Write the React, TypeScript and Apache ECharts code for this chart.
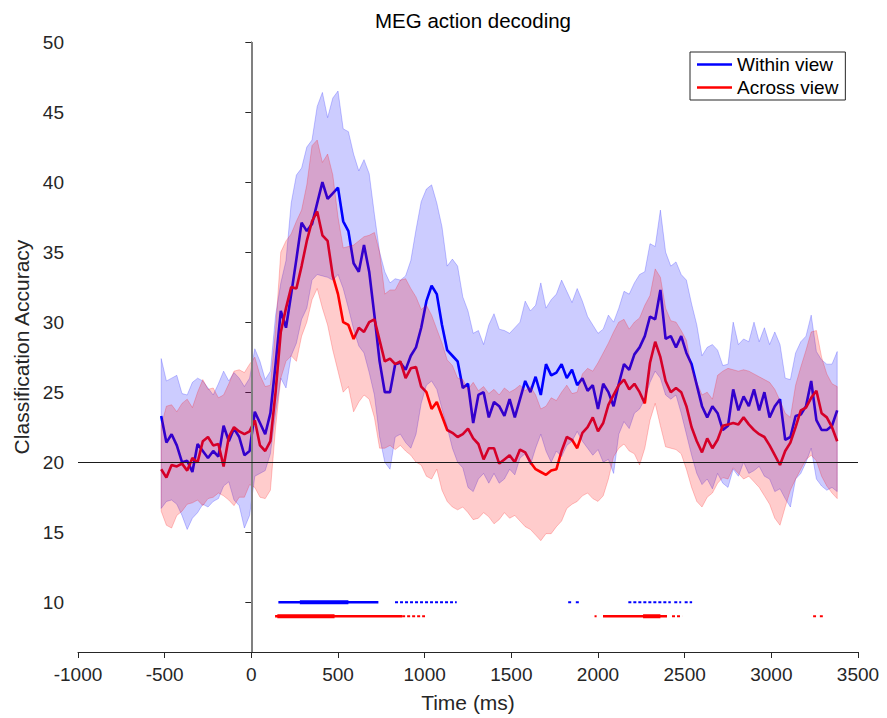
import React, { useEffect, useRef } from "react";
import * as echarts from "echarts";

// Sampling grid of the decoding time course (ms)
const SAMPLE_START_MS = -520;
const SAMPLE_STEP_MS = 30;

// Mean classification accuracy (%), within-view decoding
const withinMean = [
  23.3, 21.4, 22.0, 21.2, 20.0, 20.1, 19.3, 21.3, 20.8, 20.3,
  20.8, 20.4, 22.6, 21.5, 22.4, 21.8, 20.5, 20.8, 23.6, 22.8,
  22.0, 23.5, 27.0, 30.8, 29.6, 32.0, 34.5, 37.1, 36.5, 37.0,
  38.5, 40.0, 38.8, 39.2, 39.6, 37.2, 36.5, 34.2, 33.6, 35.5,
  33.6, 30.5, 27.2, 25.0, 25.0, 27.0, 27.1, 26.6, 27.6, 28.2,
  29.6, 31.5, 32.6, 32.0, 29.8, 28.0, 27.6, 27.2, 25.3, 25.6,
  22.8, 24.8, 25.0, 23.2, 24.3, 24.0, 23.3, 24.5, 23.2, 24.5,
  25.8, 25.0, 26.1, 24.8, 27.0, 26.2, 26.4, 27.0, 26.0, 26.6,
  25.5, 26.0, 25.1, 25.5, 23.8, 25.6, 25.0, 24.0, 25.6, 27.0,
  26.6, 27.7, 28.2, 29.0, 30.4, 30.2, 32.3, 28.8, 29.0, 28.2,
  29.0, 27.8, 27.0, 25.5, 24.0, 23.2, 24.0, 23.5, 22.3, 22.6,
  25.2, 23.7, 24.7, 24.0, 25.2, 23.7, 25.0, 23.2, 24.0, 24.5,
  21.6, 21.8, 23.3, 23.4, 24.0, 25.8, 23.0, 22.3, 22.3, 22.6,
  23.7,
];

// Mean classification accuracy (%), across-view decoding
const acrossMean = [
  19.5, 18.9, 19.8, 19.7, 19.9, 19.4, 20.3, 20.0, 21.5, 21.8,
  21.2, 21.3, 19.7, 21.8, 22.5, 22.2, 22.0, 22.2, 23.0, 21.2,
  20.8, 21.5, 25.0, 29.3, 31.0, 32.5, 32.4, 34.0, 35.8, 37.2,
  37.9, 36.2, 35.8, 33.3, 32.0, 30.0, 29.8, 28.8, 29.6, 29.3,
  30.0, 30.2, 28.7, 27.2, 27.4, 27.0, 27.2, 26.0, 26.7, 26.8,
  25.4, 25.0, 23.8, 24.3, 23.3, 22.3, 22.1, 21.8, 22.0, 22.4,
  21.7, 21.3, 20.2, 21.0, 21.0, 19.9, 20.2, 20.5, 20.0, 20.9,
  20.7, 20.0, 19.5, 19.3, 19.1, 19.4, 19.5, 20.8, 21.8, 21.6,
  21.0, 22.1, 22.5, 23.2, 22.2, 22.8, 24.1, 24.8, 25.5, 25.9,
  25.2, 25.6, 25.0, 24.2, 27.1, 28.6, 27.5, 25.8, 25.0, 25.3,
  25.0, 24.0, 22.5, 21.5, 20.7, 21.7, 21.0, 21.6, 22.6, 22.7,
  22.8, 22.7, 23.2, 22.7, 22.3, 22.0, 21.8, 21.2, 20.5, 19.8,
  20.8, 21.4, 22.5, 23.7, 23.9, 24.6, 25.1, 23.5, 23.2, 22.5,
  21.5,
];

// Upper / lower edges of the within-view error band
const withinUpper = [
  27.4, 25.8, 26.0, 26.2, 24.9, 24.8, 25.7, 26.0, 25.8, 25.3,
  24.8, 25.6, 26.5, 25.8, 26.4, 26.0, 25.4, 26.0, 28.1, 27.2,
  25.9, 26.5, 30.5, 32.8, 34.4, 38.5, 40.5, 41.0, 42.5, 43.0,
  45.4, 46.4, 44.6, 46.0, 46.5, 43.8, 43.6, 42.0, 40.8, 41.6,
  40.6, 37.7, 35.0, 33.6, 32.8, 33.1, 33.0, 33.3, 34.4, 36.6,
  38.6, 39.5, 39.8, 38.5, 36.8, 34.0, 34.5, 34.0, 31.8, 30.8,
  29.2, 29.4, 28.4, 29.8, 30.6, 29.5, 29.4, 29.2, 29.6, 30.0,
  31.5, 30.8, 31.2, 32.8, 31.0, 31.6, 32.0, 33.0, 32.2, 31.4,
  32.4, 31.5, 30.4, 29.8, 29.2, 29.5, 30.5, 30.0, 31.0, 32.2,
  32.0, 32.8, 33.4, 33.6, 35.6, 35.4, 38.0, 35.0, 34.0, 34.3,
  33.4, 33.0, 31.3, 29.8, 27.6, 28.2, 28.4, 28.0, 26.9, 27.0,
  30.0, 28.4, 28.8, 28.6, 30.0, 28.6, 29.6, 28.4, 29.3, 28.4,
  26.0, 25.9, 27.8, 28.6, 29.0, 30.5, 27.9, 27.3, 27.0, 27.0,
  27.9,
];
const withinLower = [
  16.7, 17.2, 17.3, 17.0, 16.2, 15.2, 16.0, 16.4, 17.0, 16.8,
  17.2, 17.4, 18.3, 18.6, 17.3, 16.9, 15.3, 16.2, 19.0, 19.2,
  19.4, 20.6, 23.5, 26.0, 25.3, 27.6, 28.5, 30.2, 31.0, 33.0,
  33.4, 33.3, 33.2, 33.0, 33.4, 32.4, 31.0, 29.5, 28.3, 27.8,
  26.4, 24.8, 21.8, 20.0, 19.5, 21.8, 22.0, 21.4, 21.0, 22.0,
  24.2, 25.5, 25.8, 25.2, 23.8, 22.5, 21.0, 20.0, 19.6, 18.2,
  17.9, 18.8, 19.2, 18.5, 19.2, 18.5, 18.8, 19.5, 19.1, 20.3,
  20.6, 19.8, 21.0, 22.0, 20.8, 20.0, 20.8, 20.4, 21.2, 21.5,
  22.2, 21.5, 21.0, 20.5, 20.9, 20.0, 20.2, 19.2, 22.0, 22.9,
  22.4, 23.5, 23.8, 24.5, 25.7, 26.5, 26.0, 24.8, 24.5, 24.8,
  23.5, 22.0, 20.5, 19.2, 18.4, 18.8, 18.1, 19.2, 18.5, 18.2,
  19.5, 19.0, 20.0, 19.2, 19.4, 19.7, 19.0, 18.8, 17.9, 18.1,
  17.4, 16.8, 18.8, 19.2, 20.0, 21.0, 18.8, 18.3, 18.0, 18.2,
  17.9,
];

// Upper / lower edges of the across-view error band
const acrossUpper = [
  22.6, 24.0, 24.1, 23.6, 24.2, 24.5, 23.9, 25.0, 25.9, 25.2,
  25.3, 24.6, 24.8, 25.6, 26.5, 26.6, 26.4, 27.0, 27.5, 26.2,
  25.4, 25.5, 29.5, 35.0, 35.8, 36.3, 37.2, 38.0, 39.8, 42.6,
  43.0, 41.4, 42.0, 40.5, 37.5, 35.3, 35.4, 35.5, 35.8, 36.1,
  36.2, 36.4, 35.0, 32.0, 32.3, 32.3, 33.0, 33.1, 32.4, 31.8,
  30.9, 31.2, 30.5, 29.5, 28.5, 27.3, 26.9, 26.0, 25.9, 25.2,
  25.7, 25.1, 25.4, 24.9, 25.2, 24.8, 25.3, 25.0, 25.2, 25.5,
  25.1, 25.4, 24.8, 23.8, 24.0, 24.6, 24.4, 25.0, 25.5, 24.9,
  25.0, 26.3, 26.7, 26.5, 27.1, 27.8, 28.5, 29.3, 30.0, 30.2,
  29.5, 30.0, 30.3, 31.2, 31.9, 33.8, 33.2, 31.0, 30.1, 30.0,
  29.4, 28.7, 26.7, 25.7, 24.8, 25.0, 24.5, 26.2, 26.5, 26.7,
  26.6, 26.5, 26.6, 26.5, 26.3, 26.1, 25.9, 25.7, 25.2, 24.4,
  23.5, 23.2, 25.5, 26.8, 28.0, 29.3, 29.4, 27.5, 26.3, 25.6,
  25.4,
];
const acrossLower = [
  16.5, 15.5, 15.3, 16.2, 16.5, 17.0, 17.1, 17.3, 16.9, 17.4,
  17.5, 17.8, 17.6, 17.3, 16.9, 17.5, 17.5, 18.4, 18.2, 17.5,
  17.4, 18.0, 22.5, 26.0, 27.2, 27.6, 27.2, 29.0, 30.0, 31.6,
  32.4, 31.0, 29.8, 28.0, 26.5, 25.0, 25.4, 23.6, 24.3, 24.8,
  24.5, 23.2, 21.0, 21.0, 21.2, 20.9, 21.2, 20.8, 20.5, 20.0,
  19.8, 19.0, 18.8, 19.5, 18.0, 17.2, 16.8, 16.6, 16.8, 16.4,
  15.9, 16.0, 16.4, 16.1, 15.6, 15.9, 16.4, 16.0, 16.2, 15.8,
  15.4, 15.2, 14.8, 14.4, 14.9, 14.9, 15.4, 15.8, 16.7, 17.0,
  17.2, 17.6, 17.8, 17.4, 17.2, 17.6, 18.8, 20.4, 21.0, 21.3,
  20.8, 20.6, 19.8, 21.0, 23.0, 24.2, 22.6, 21.1, 21.0, 20.9,
  20.6, 19.5, 18.2, 17.2, 16.8, 17.5, 17.8, 18.5, 18.9, 18.8,
  19.6, 19.2, 18.8, 19.0, 18.6, 18.2, 17.6, 17.0, 16.0, 15.5,
  16.8, 18.0, 18.8, 19.5, 20.2, 20.5, 20.1, 19.0, 18.3, 17.8,
  17.4,
];

// Significant time windows (ms): dense runs and sparse runs
const withinSigDense = [[156, 733]];
const withinSigSparse = [[829, 1185], [1828, 1845], [1872, 1897], [2175, 2420], [2440, 2480], [2500, 2543]];
const withinSigCore = [[280, 560]];
const acrossSigDense = [[137, 870], [2029, 2398]];
const acrossSigSparse = [[870, 1002], [1980, 1992], [2427, 2485], [3241, 3258], [3280, 3297]];
const acrossSigCore = [[150, 480], [2260, 2360]];

// Marker rows for the significance bars
const WITHIN_SIG_LEVEL = 10;
const ACROSS_SIG_LEVEL = 9;

// Reference lines: stimulus onset and chance level
const ONSET_MS = 0;
const CHANCE_LEVEL = 20;

const yTicks = [10, 15, 20, 25, 30, 35, 40, 45, 50];

const timeMs = withinMean.map((_, i) => SAMPLE_START_MS + i * SAMPLE_STEP_MS);

const FONT = "'Liberation Sans', Arial, Helvetica, sans-serif";
const AXIS_COLOR = "#262626";
const BLUE = "#0000ff";
const RED = "#ff0000";

function pairs(values: number[]) {
  return values.map((v, i) => [timeMs[i], v]);
}

function runs(segs: number[][], level: number) {
  const out: (number | string)[][] = [];
  segs.forEach(([s, e]) => {
    out.push([s, level], [e, level], [e, "-"]);
  });
  return out;
}

// Shaded error band: one polygon through the upper edge and back along the lower edge
function bandSeries(name: string, upper: number[], lower: number[], edge: string, fill: string) {
  return {
    name,
    type: "custom",
    z: 3,
    silent: true,
    clip: true,
    data: timeMs.map((t, i) => [t, lower[i], upper[i]]),
    encode: { x: 0, y: [1, 2] },
    renderItem: (params: any, api: any) => {
      if (params.dataIndex !== 0) return null;
      const pts: number[][] = [];
      for (let i = 0; i < timeMs.length; i++) pts.push(api.coord([timeMs[i], upper[i]]));
      for (let i = timeMs.length - 1; i >= 0; i--) pts.push(api.coord([timeMs[i], lower[i]]));
      return {
        type: "polygon",
        shape: { points: pts },
        style: { fill, stroke: edge, lineWidth: 0.8 },
      };
    },
  };
}

function sigSeries(name: string, segs: number[][], level: number, color: string, width: number, dashed: boolean) {
  return {
    name,
    type: "line",
    data: runs(segs, level),
    symbol: "none",
    connectNulls: false,
    lineStyle: { color, width, type: dashed ? [3, 2] : "solid" },
    itemStyle: { color },
    z: 4,
    silent: true,
  };
}

export default function App() {
  const ref = useRef<HTMLDivElement>(null);

  useEffect(() => {
    document.body.style.margin = "0";
    if (!ref.current) return;
    const chart = echarts.init(ref.current, null, { renderer: "svg" });

    chart.setOption({
      animation: false,
      backgroundColor: "#ffffff",
      textStyle: { fontFamily: FONT },
      title: {
        text: "MEG action decoding",
        left: 468,
        top: 5,
        textAlign: "center",
        textStyle: { fontFamily: FONT, fontSize: 20.5, fontWeight: "normal", color: "#000" },
      },
      legend: {
        data: [
          { name: "Within view", icon: "rect" },
          { name: "Across view", icon: "rect" },
        ],
        orient: "vertical",
        left: 690,
        top: 52,
        padding: [1, 7, 1, 7],
        itemWidth: 35,
        itemHeight: 2.5,
        itemGap: 0,
        selectedMode: false,
        borderColor: AXIS_COLOR,
        borderWidth: 1,
        backgroundColor: "#ffffff",
        textStyle: { fontFamily: FONT, fontSize: 19, color: "#000", lineHeight: 23 },
      },
      grid: { left: 78, right: 29, top: 42, bottom: 64, containLabel: false },
      xAxis: {
        type: "value",
        min: -1000,
        max: 3500,
        interval: 500,
        name: "Time (ms)",
        nameLocation: "middle",
        nameGap: 40,
        nameTextStyle: { fontFamily: FONT, fontSize: 21, color: AXIS_COLOR },
        axisLine: { lineStyle: { color: AXIS_COLOR, width: 1 } },
        axisTick: { length: 6, lineStyle: { color: AXIS_COLOR } },
        axisLabel: {
          fontFamily: FONT,
          fontSize: 19,
          color: AXIS_COLOR,
          margin: 13,
          formatter: (v: number) => String(v),
        },
        splitLine: { show: false },
      },
      yAxis: {
        type: "value",
        min: 6.45,
        max: 50,
        name: "Classification Accuracy",
        nameLocation: "middle",
        nameGap: 46,
        nameTextStyle: { fontFamily: FONT, fontSize: 21, color: AXIS_COLOR },
        axisLine: { show: true, lineStyle: { color: AXIS_COLOR, width: 1 } },
        axisTick: { show: true, length: 6, customValues: yTicks, lineStyle: { color: AXIS_COLOR } },
        axisLabel: {
          fontFamily: FONT,
          fontSize: 19,
          color: AXIS_COLOR,
          margin: 14,
          customValues: yTicks,
          formatter: (v: number) => String(v),
        },
        splitLine: { show: false },
      },
      series: [
        {
          name: "Within view",
          type: "line",
          data: pairs(withinMean),
          symbol: "none",
          lineStyle: { color: BLUE, width: 2.6 },
          itemStyle: { color: BLUE },
          z: 2,
        },
        {
          name: "Across view",
          type: "line",
          data: pairs(acrossMean),
          symbol: "none",
          lineStyle: { color: RED, width: 2.6 },
          itemStyle: { color: RED },
          z: 2,
        },
        bandSeries("within-band", withinUpper, withinLower, "rgba(0,0,255,0.28)", "rgba(0,0,255,0.2)"),
        bandSeries("across-band", acrossUpper, acrossLower, "rgba(255,0,0,0.28)", "rgba(255,0,0,0.2)"),
        sigSeries("within-sig", withinSigDense, WITHIN_SIG_LEVEL, BLUE, 2.5, false),
        sigSeries("within-sig-sparse", withinSigSparse, WITHIN_SIG_LEVEL, BLUE, 2, true),
        sigSeries("within-sig-core", withinSigCore, WITHIN_SIG_LEVEL, BLUE, 4, false),
        sigSeries("across-sig", acrossSigDense, ACROSS_SIG_LEVEL, RED, 2.5, false),
        sigSeries("across-sig-sparse", acrossSigSparse, ACROSS_SIG_LEVEL, RED, 2, true),
        sigSeries("across-sig-core", acrossSigCore, ACROSS_SIG_LEVEL, RED, 4, false),
        {
          name: "reference",
          type: "line",
          data: [],
          z: 5,
          silent: true,
          markLine: {
            silent: true,
            symbol: ["none", "none"],
            label: { show: false },
            animation: false,
            data: [
              { xAxis: ONSET_MS, lineStyle: { color: "#808080", width: 2, type: "solid" } },
              { yAxis: CHANCE_LEVEL, lineStyle: { color: "#1a1a1a", width: 1.2, type: "solid" } },
            ],
          },
        },
      ],
    });

    return () => chart.dispose();
  }, []);

  return (
    <div
      ref={ref}
      style={{ position: "absolute", left: 0, top: 0, width: 887, height: 718, background: "#fff" }}
    />
  );
}
